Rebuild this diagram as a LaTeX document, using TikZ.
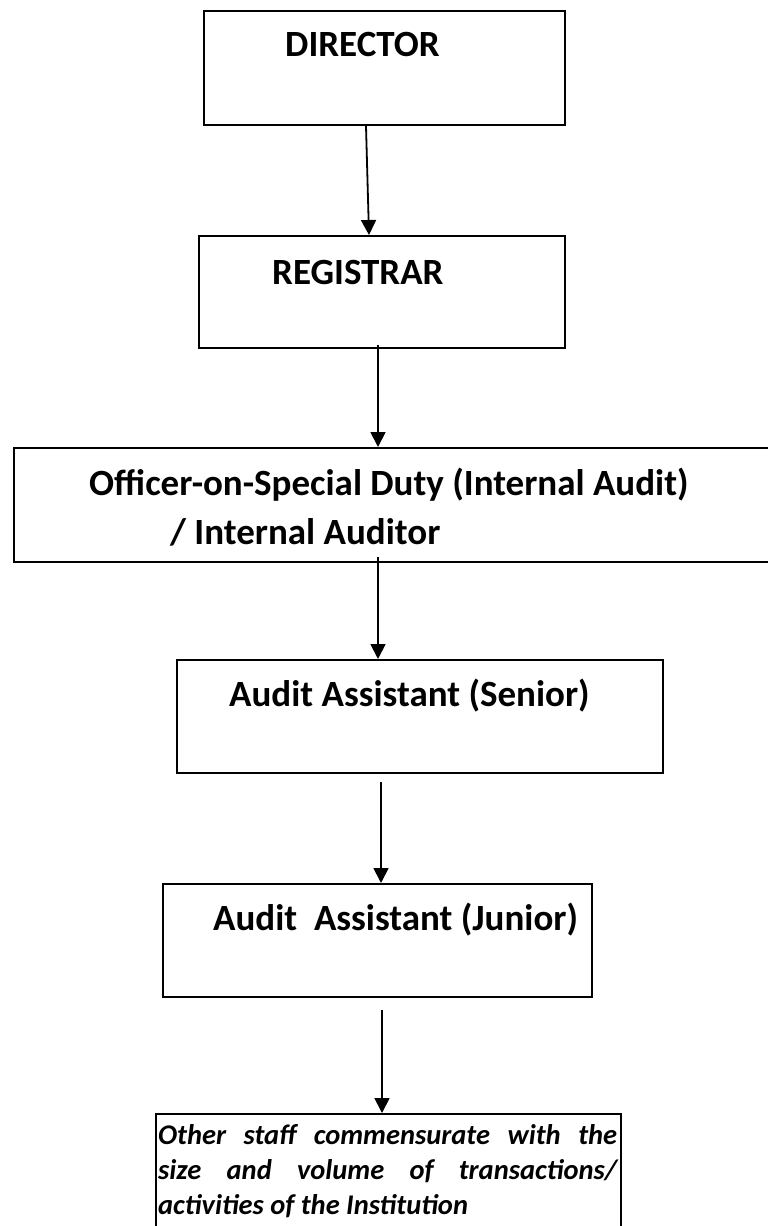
\documentclass[tikz,border=0pt]{standalone}
\usepackage{fontspec}
\setmainfont{Carlito}
\usetikzlibrary{arrows.meta}
\begin{document}
\begin{tikzpicture}[x=1pt,y=-1pt,
  box/.style={draw, line width=2pt, inner sep=0pt, anchor=north west},
  lbl/.style={anchor=base west, inner sep=0pt, font=\fontsize{37}{44}\selectfont\bfseries},
  arr/.style={line width=1.8pt, -{Triangle[width=15pt,length=15pt]}}]
\useasboundingbox (0,0) rectangle (768,1226);
\fill[white] (0,0) rectangle (768,1226);
% boxes
\node[box, minimum width=361pt, minimum height=114pt] (dir) at (203,10) {};
\node[box, minimum width=366pt, minimum height=112pt] (reg) at (198,235) {};
\node[box, minimum width=770pt, minimum height=114pt] (osd) at (13,447) {};
\node[box, minimum width=486pt, minimum height=113pt] (sen) at (176,659) {};
\node[box, minimum width=429pt, minimum height=113pt] (jun) at (162,883) {};
\node[box, minimum width=465pt, minimum height=140pt] (oth) at (155,1113) {};
% labels
\node[lbl] (tdir) at (285,56) {DIRECTOR};
\node[lbl] (treg) at (272,284) {REGISTRAR};
\node[lbl] (tosa) at (89,495) {Officer-on-Special Duty (Internal Audit)};
\node[lbl] (tosb) at (170,544) {/ Internal Auditor};
\node[lbl] (tsen) at (229,706) {Audit Assistant (Senior)};
\node[lbl] (tjun) at (213,930) {Audit\ \ Assistant (Junior)};
\node[anchor=base west, inner sep=0pt, text width=459pt, align=justify,
      font=\fontsize{28.5}{35}\selectfont\bfseries\itshape] (toth) at (158,1144)
  {\hyphenpenalty=10000 Other staff commensurate with the\linebreak size and volume of transactions/\linebreak activities of the Institution};
% connectors
\draw[arr] ([xshift=-18.5pt]dir.south) -- ([xshift=-13pt]reg.north);
\draw[arr] ([xshift=-4pt,yshift=4pt]reg.south) -- ([xshift=-21pt]osd.north);
\draw[arr] ([xshift=-21pt,yshift=6pt]osd.south) -- ([xshift=-42pt]sen.north);
\draw[arr] ([xshift=-39pt,yshift=-8pt]sen.south) -- ([xshift=3.5pt]jun.north);
\draw[arr] ([xshift=4.5pt,yshift=-12pt]jun.south) -- ([xshift=-6.5pt]oth.north);
\end{tikzpicture}
\end{document}
